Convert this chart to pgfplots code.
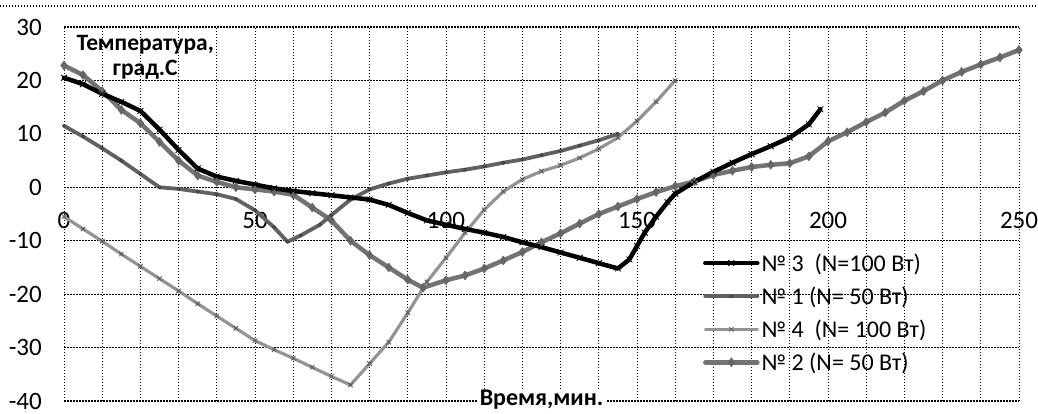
\documentclass[border=0pt]{standalone}
\usepackage{fontspec}
\setmainfont{Carlito}
\usepackage{pgfplots}
\pgfplotsset{compat=1.18}

\begin{document}
\begin{tikzpicture}
\path[use as bounding box] (0pt,0pt) rectangle (1038pt,414pt);
% chart area border (top edge)
\draw[black, line width=1.1pt, dash pattern=on 1.4pt off 1.6pt] (0pt,408pt) -- (1038pt,408pt);
\begin{axis}[
  at={(64pt,13pt)}, anchor=south west,
  width=955pt, height=374pt, scale only axis,
  xmin=0, xmax=250, ymin=-40, ymax=30,
  clip=false,
  axis x line=middle, axis y line=left,
  axis line style={draw=none},
  hide obscured x ticks=false, hide obscured y ticks=false,
  xtick={0,50,...,250}, minor x tick num=4,
  ytick={-40,-30,...,30},
  major tick length=0pt, minor tick length=0pt,
  grid=both,
  major grid style={black, line width=0.9pt, dash pattern=on 1.2pt off 1.8pt},
  minor grid style={black, line width=0.9pt, dash pattern=on 1.2pt off 1.8pt},
  y grid style={line width=1.2pt, dash pattern=on 1.5pt off 1.5pt},
  tick label style={font=\fontsize{25}{29}\selectfont},
  /pgf/number format/assume math mode=true,
  xticklabel style={anchor=north, inner sep=0pt, yshift=-25pt},
  yticklabel style={anchor=east, inner sep=0pt, xshift=-22pt},
  xlabel={Время,мин.},
  ylabel={Температура,\\град.С},
  every axis x label/.style={at={(rel axis cs:0.5,0.03)}, anchor=north,
    inner xsep=3pt, inner ysep=0pt, fill=white,
    font=\bfseries\fontsize{24}{27}\selectfont},
  every axis y label/.style={at={(rel axis cs:0.085,0.919)}, anchor=center,
    align=center, font=\bfseries\fontsize{23.5}{25}\selectfont},
  legend style={at={(rel axis cs:0.669,0.40)}, anchor=north west,
    draw=none, fill=none, inner sep=0pt, row sep=10pt,
    font=\fontsize{24}{28}\selectfont, cells={anchor=west}},
  legend image code/.code={%
    \draw[mark repeat=2,mark phase=2,#1]
      plot coordinates {(0pt,0pt) (26pt,0pt) (52pt,0pt)};},
  reverse legend,
  every axis plot/.append style={line join=round, line cap=round},
]

% No 2 (N = 50 W)
\addplot[color=black!55, line width=4.5pt, mark=diamond*, mark size=4.5pt,
  mark options={solid, fill=black!60, draw=black!60, line width=0.5pt}]
coordinates {
(0,22.8) (5,21) (10,18) (15,14.5) (20,12) (25,8.5) (30,5) (35,2.2)
(40,1) (45,0) (50,-0.4) (55,-0.8) (60,-1.4) (65,-3.8) (70,-6.2) (75,-10)
(80,-12.7) (85,-15) (90,-17.3) (94,-18.8) (100,-17.4) (105,-16.5)
(110,-15.2) (115,-13.7) (120,-12.1) (125,-10.3) (130,-8.6) (135,-6.8)
(140,-5) (145,-3.6) (150,-2.2) (155,-0.9) (160,0.2) (165,1.1) (170,2.3)
(175,3.1) (180,3.8) (185,4.2) (190,4.5) (195,5.8) (200,8.6) (205,10.3)
(210,12.2) (215,14) (220,16.2) (225,18) (230,20) (235,21.6) (240,23)
(245,24.3) (250,25.7)
};
\addlegendentry{№ 2 (N= 50 Вт)}

% No 4 (N = 100 W)
\addplot[color=black!42, line width=3.2pt, mark=x, mark size=3pt,
  mark options={solid, draw=black!65, line width=0.8pt}]
coordinates {
(0,-5.5) (5,-7.8) (10,-10.1) (15,-12.5) (20,-14.8) (25,-17.1) (30,-19.4)
(35,-21.8) (40,-24.1) (45,-26.4) (50,-28.7) (55,-30.4) (60,-32) (65,-33.7)
(70,-35.4) (75,-37) (80,-33) (85,-29) (90,-23.5) (95,-17.7) (100,-13.2)
(105,-8.5) (110,-4.2) (115,-0.8) (120,1.5) (125,3) (130,4.1) (135,5.5)
(140,7.2) (145,9.3) (150,12.4) (155,16) (160,20)
};
\addlegendentry{№ 4\ \ (N= 100 Вт)}

% No 1 (N = 50 W)
\addplot[color=black!62, line width=3.8pt, mark=o, mark size=1.6pt,
  mark options={solid, draw=black!80, line width=0.6pt}]
coordinates {
(0,11.5) (5,9.5) (10,7.3) (15,5) (20,2.5) (25,0) (30,-0.3) (35,-0.8)
(40,-1.3) (45,-2.2) (50,-4.3) (55,-7.5) (58.5,-10.2) (62,-9) (67,-7)
(70,-5.2) (75,-2.3) (80,-0.4) (85,0.7) (90,1.6) (95,2.2) (100,2.8)
(105,3.3) (110,3.9) (115,4.6) (120,5.2) (125,6) (130,6.8) (135,7.8)
(140,8.8) (145,10)
};
\addlegendentry{№ 1 (N= 50 Вт)}

% No 3 (N = 100 W)
\addplot[black, line width=4.5pt, mark=x, mark size=4pt,
  mark options={solid, line width=0.8pt}]
coordinates {
(0,20.5) (5,19.3) (10,17.5) (15,16) (20,14.3) (25,10.8) (30,7) (35,3.5)
(40,2) (45,1.2) (50,0.5) (55,-0.2) (60,-0.7) (65,-1.1) (70,-1.5) (75,-1.9)
(80,-2.3) (85,-3.3) (90,-4.8) (95,-6.2) (100,-7) (105,-7.8) (110,-8.5)
(115,-9.3) (120,-10.3) (125,-11.2) (130,-12.2) (135,-13.2) (140,-14.2)
(145,-15.2) (148,-13.5) (150,-11) (152,-8.5) (155,-5.5) (158,-2.8)
(160,-1.2) (165,1) (170,2.9) (175,4.6) (180,6.2) (185,7.7) (190,9.3)
(195,11.8) (198,14.6)
};
\addlegendentry{№ 3\ \ (N=100 Вт)}

\end{axis}
\end{tikzpicture}
\end{document}
